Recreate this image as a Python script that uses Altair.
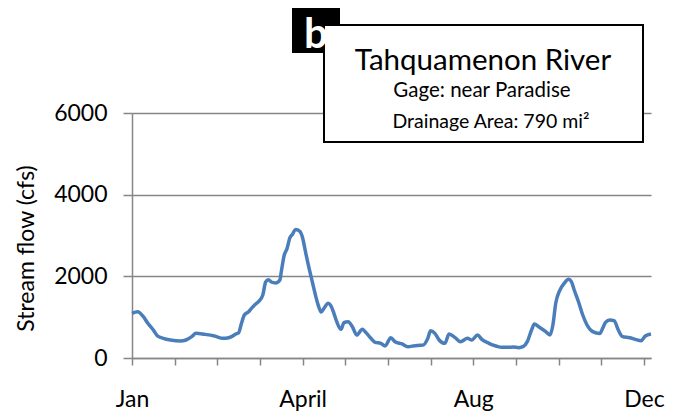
import altair as alt
import pandas as pd

days = [0, 4, 8, 11, 15, 18, 22, 27, 34, 38, 42, 45, 51, 58, 64, 68, 70, 73, 75, 77,
        79, 82, 84, 87, 89, 92, 94, 96, 98, 101, 104, 105, 107, 109, 111, 113, 115, 118, 120, 122,
        124, 127, 129, 131, 133, 135, 138, 140, 142, 144, 147, 149, 152, 155, 158, 162, 164, 168, 171, 175,
        178, 182, 185, 190, 194, 199, 203, 205, 208, 210, 213, 216, 220, 223, 227, 231, 236, 239, 243, 246,
        251, 256, 260, 265, 268, 272, 275, 278, 281, 283, 286, 291, 294, 296, 298, 301, 304, 307, 309, 311,
        314, 317, 320, 324, 329, 331, 333, 336, 339, 342, 345, 350, 354, 358, 361, 365]
flow = [1095, 1134, 1011, 857, 686, 539, 482, 441, 416, 441, 522, 605, 580, 539, 482, 497, 522, 588, 620, 850,
        1053, 1134, 1216, 1322, 1379, 1542, 1861, 1918, 1861, 1837, 1910, 2114, 2511, 2677, 2939, 3037, 3150, 3102, 2939, 2604,
        2278, 1837, 1542, 1290, 1125, 1216, 1339, 1273, 1094, 889, 702, 865, 889, 767, 563, 702, 645, 482, 384, 360,
        294, 497, 400, 343, 277, 302, 310, 320, 480, 668, 604, 441, 360, 588, 506, 400, 482, 441, 563, 457,
        360, 294, 261, 261, 270, 253, 277, 400, 686, 833, 767, 645, 563, 808, 1339, 1665, 1828, 1926, 1869, 1665,
        1379, 1053, 808, 645, 600, 727, 870, 931, 914, 686, 522, 497, 457, 424, 539, 588]

tick_days = [0, 30, 60, 90, 120, 150, 180, 210, 240, 270, 300, 330, 360]
label_days = [0, 120, 240, 360]
label_names = ["Jan", "April", "Aug", "Dec"]
y_ticks = [0, 2000, 4000, 6000]

title_main = "Tahquamenon River"
title_gage = "Gage: near Paradise"
title_area = "Drainage Area: 790 mi\u00b2"
panel_letter = "b"

df = pd.DataFrame({"day": days, "flow": flow})

expr = " : ".join(
    [f"datum.value == {d} ? '{n}'" for d, n in zip(label_days, label_names)]
) + " : ''"

FONT = "Lato"
GRAY = "#868686"

line = alt.Chart(df).mark_line(color="#4a7ebb", strokeWidth=3.5, interpolate="monotone").encode(
    x=alt.X("day:Q", scale=alt.Scale(domain=[0, 365], nice=False, zero=False),
            axis=alt.Axis(values=tick_days, labelExpr=expr, title=None, grid=False,
                          labelFlush=False, labelOverlap=False, tickSize=7,
                          labelPadding=23, labelFontSize=23, labelFont=FONT,
                          labelColor="black", domainColor=GRAY, tickColor=GRAY,
                          domainWidth=1.5, tickWidth=1.5)),
    y=alt.Y("flow:Q", scale=alt.Scale(domain=[0, 6000], nice=False),
            axis=alt.Axis(values=y_ticks, format="d", title="Stream flow (cfs)", grid=True,
                          gridColor=GRAY, gridWidth=1.5, tickSize=9, labelPadding=16,
                          labelFontSize=23, labelFont=FONT, labelColor="black",
                          titleFontSize=23, titleFont=FONT, titleFontWeight="normal",
                          titleColor="black", titlePadding=15, titleY=135,
                          domainColor=GRAY, tickColor=GRAY, domainWidth=1.5, tickWidth=1.5)),
)

one = pd.DataFrame({"a": [0]})

black_sq = alt.Chart(one).mark_rect(color="black").encode(
    x=alt.value(160), x2=alt.value(208), y=alt.value(-105), y2=alt.value(-60))

box = alt.Chart(one).mark_rect(fill="white", stroke="black", strokeWidth=2).encode(
    x=alt.value(192), x2=alt.value(511), y=alt.value(-88), y2=alt.value(29))

t_letter = alt.Chart(one).mark_text(text=panel_letter, font=FONT, fontWeight="bold", fontSize=42,
                                    color="white", align="center", baseline="alphabetic").encode(
    x=alt.value(184), y=alt.value(-65))

t_main = alt.Chart(one).mark_text(text=title_main, font=FONT, fontSize=29.5, color="black",
                                  align="center", baseline="alphabetic").encode(
    x=alt.value(351), y=alt.value(-43))

t_gage = alt.Chart(one).mark_text(text=title_gage, font=FONT, fontSize=20.5, color="black",
                                  align="center", baseline="alphabetic").encode(
    x=alt.value(350), y=alt.value(-16))

t_area = alt.Chart(one).mark_text(text=title_area, font=FONT, fontSize=19.5, color="black",
                                  align="center", baseline="alphabetic").encode(
    x=alt.value(359), y=alt.value(15))

chart = alt.layer(line, black_sq, box, t_letter, t_main, t_gage, t_area).properties(
    width=519, height=245,
    autosize=alt.AutoSizeParams(type="none"),
    padding={"left": 124, "top": 105, "right": 20, "bottom": 58},
    background="white",
).configure_view(stroke=None)

chart.save("out.html", embed_options={"renderer": "svg", "actions": False})
